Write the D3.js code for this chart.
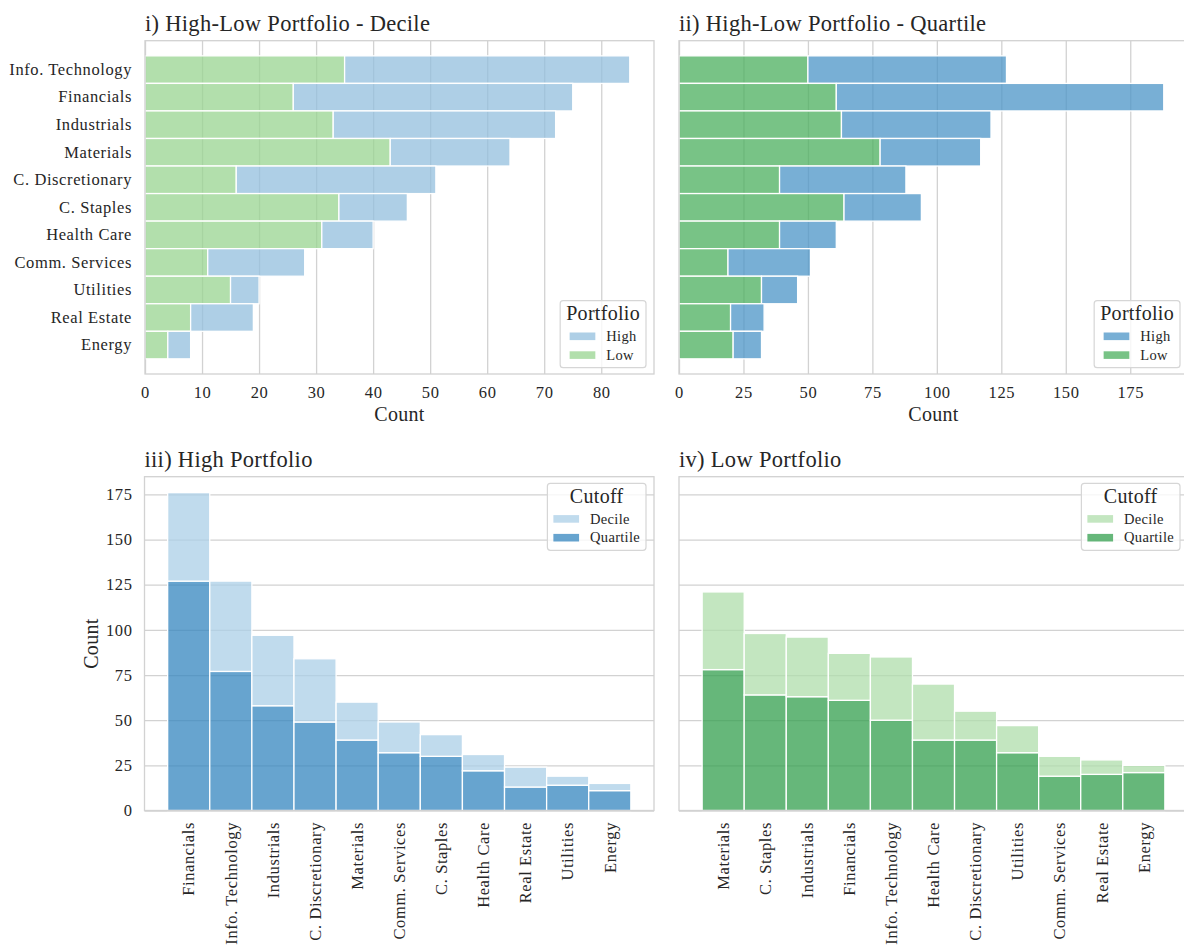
<!DOCTYPE html>
<html>
<head>
<meta charset="utf-8">
<script src="https://cdn.jsdelivr.net/npm/d3@7"></script>
<style>
  html, body { margin: 0; padding: 0; background: #fff; overflow: hidden; }
  svg { display: block; font-family: "Liberation Serif", "Times New Roman", serif; }
  svg text { font-family: "Liberation Serif", "Times New Roman", serif; }
</style>
</head>
<body>
<svg id="chart" width="1184" height="947"></svg>
<script>
// ---- data -------------------------------------------------------------
// Sector order used by the two horizontal (top) panels
const sectors = ["Info. Technology", "Financials", "Industrials", "Materials",
  "C. Discretionary", "C. Staples", "Health Care", "Comm. Services",
  "Utilities", "Real Estate", "Energy"];

// Firm counts per sector, aligned with `sectors`
const decileHigh   = [50, 49, 39, 21, 35, 12,  9, 17,  5, 11,  4];
const decileLow    = [35, 26, 33, 43, 16, 34, 31, 11, 15,  8,  4];
const quartileHigh = [77, 127, 58, 39, 49, 30, 22, 32, 14, 13, 11];
const quartileLow  = [50, 61, 63, 78, 39, 64, 39, 19, 32, 20, 21];

// Sector order for the bottom panels (sorted by stacked total)
const highOrder = ["Financials", "Info. Technology", "Industrials", "C. Discretionary",
  "Materials", "Comm. Services", "C. Staples", "Health Care", "Real Estate",
  "Utilities", "Energy"];
const lowOrder = ["Materials", "C. Staples", "Industrials", "Financials",
  "Info. Technology", "Health Care", "C. Discretionary", "Utilities",
  "Comm. Services", "Real Estate", "Energy"];

// Tick values
const decileTicks   = [0, 10, 20, 30, 40, 50, 60, 70, 80];
const quartileTicks = [0, 25, 50, 75, 100, 125, 150, 175];
const countTicks    = [0, 25, 50, 75, 100, 125, 150, 175];

// ---- style ------------------------------------------------------------
const ink = "#262626";
const gridColor = "#d2d2d2";
const barAlpha = 0.75;
const colors = {
  decHigh: "#93bfde", decLow: "#98d490",
  quaHigh: "#4b94c7", quaLow: "#4baf5e",
  stackHighDec: "#abcfe7", stackHighQua: "#3486bf",
  stackLowDec: "#afdeab", stackLowQua: "#339f4e"
};
const fs = { title: 22.5, label: 20, tick: 16.5, legTitle: 20, legLabel: 14.5 };
const serif = '"Liberation Serif", "Times New Roman", serif';

const svg = d3.select("#chart");

const boxes = {
  a: { x0: 145,   x1: 654,  y0: 40.7,  y1: 374 },
  b: { x0: 679,   x1: 1188, y0: 40.7,  y1: 374 },
  c: { x0: 144.5, x1: 654,  y0: 476.7, y1: 810.5 },
  d: { x0: 679,   x1: 1188, y0: 476.7, y1: 810.5 }
};

const idx = s => sectors.indexOf(s);

function styleAxis(sel, size) {
  sel.attr("font-family", serif).attr("font-size", size);
  sel.selectAll("text")
    .attr("fill", ink)
    .style("font-family", serif)
    .style("font-size", size + "px")
    .style("letter-spacing", "0.6px");
}

function drawTitle(g, box, text) {
  g.append("text")
    .attr("x", box.x0).attr("y", box.y0 - 9.7)
    .attr("fill", ink)
    .style("font-size", fs.title + "px")
    .style("letter-spacing", "0.3px")
    .text(text);
}

function drawFrame(g, box) {
  g.append("rect")
    .attr("x", box.x0).attr("y", box.y0)
    .attr("width", box.x1 - box.x0).attr("height", box.y1 - box.y0)
    .attr("fill", "none").attr("stroke", gridColor).attr("stroke-width", 1.3);
}

function drawLegend(g, right, top, title, items) {
  const lg = g.append("g");
  const bg = lg.append("rect");
  const t = lg.append("text")
    .attr("fill", ink).attr("text-anchor", "middle")
    .style("font-size", fs.legTitle + "px").style("letter-spacing", "0.3px")
    .text(title);
  const titleW = t.node().getComputedTextLength();
  const labels = items.map(it => lg.append("text")
    .attr("fill", ink)
    .style("font-size", fs.legLabel + "px").style("letter-spacing", "0.3px")
    .text(it.label));
  const labelW = d3.max(labels, l => l.node().getComputedTextLength());
  const patchW = 25.7, gap = 11;
  const contentW = patchW + gap + labelW;
  const boxW = Math.max(titleW, contentW) + 12;
  const boxH = 67;
  const left = right - boxW;
  const cLeft = left + (boxW - contentW) / 2;
  bg.attr("x", left).attr("y", top).attr("width", boxW).attr("height", boxH)
    .attr("rx", 3).attr("fill", "#fff").attr("fill-opacity", 0.8)
    .attr("stroke", "#d6d6d6").attr("stroke-width", 1.2);
  t.attr("x", left + boxW / 2).attr("y", top + 19.4);
  items.forEach((it, i) => {
    const rowTop = top + 31.8 + i * 18.8;
    lg.append("rect")
      .attr("x", cLeft).attr("y", rowTop)
      .attr("width", patchW).attr("height", 7.6)
      .attr("fill", it.color).attr("fill-opacity", barAlpha);
    labels[i].attr("x", cLeft + patchW + gap).attr("y", rowTop + 8.4);
  });
}

// ---- horizontal stacked panels (top row) ------------------------------
function horizontalPanel(box, title, low, high, ticks, cLow, cHigh, showLabels) {
  const g = svg.append("g");
  const totals = low.map((v, i) => v + high[i]);
  const x = d3.scaleLinear().domain([0, d3.max(totals) * 1.05]).range([box.x0, box.x1]);
  const y = d3.scaleBand().domain(sectors).range([box.y0, box.y1])
    .paddingInner(0).paddingOuter(0.55);

  // vertical grid + tick labels
  g.append("g")
    .attr("transform", `translate(0,${box.y1})`)
    .call(d3.axisBottom(x).tickValues(ticks).tickSize(-(box.y1 - box.y0)).tickPadding(12))
    .call(a => a.select(".domain").remove())
    .call(a => a.selectAll("line").attr("stroke", gridColor).attr("stroke-width", 1.3))
    .call(a => styleAxis(a, fs.tick));

  if (showLabels) {
    g.append("g")
      .attr("transform", `translate(${box.x0},0)`)
      .call(d3.axisLeft(y).tickSize(0).tickPadding(13))
      .call(a => a.select(".domain").remove())
      .call(a => styleAxis(a, fs.tick));
  }

  const rows = g.append("g");
  sectors.forEach((s, i) => {
    rows.append("rect")
      .attr("x", x(0)).attr("y", y(s))
      .attr("width", x(low[i]) - x(0)).attr("height", y.bandwidth())
      .attr("fill", cLow).attr("fill-opacity", barAlpha)
      .attr("stroke", "#fff").attr("stroke-width", 1.3);
    rows.append("rect")
      .attr("x", x(low[i])).attr("y", y(s))
      .attr("width", x(low[i] + high[i]) - x(low[i])).attr("height", y.bandwidth())
      .attr("fill", cHigh).attr("fill-opacity", barAlpha)
      .attr("stroke", "#fff").attr("stroke-width", 1.3);
  });

  drawFrame(g, box);
  drawTitle(g, box, title);
  g.append("text")
    .attr("x", (box.x0 + box.x1) / 2).attr("y", 421)
    .attr("text-anchor", "middle").attr("fill", ink)
    .style("font-size", fs.label + "px").style("letter-spacing", "0.3px")
    .text("Count");
  drawLegend(g, box.x1 - 8, box.y1 - 6.3 - 67, "Portfolio",
    [{ label: "High", color: cHigh }, { label: "Low", color: cLow }]);
}

// ---- vertical stacked panels (bottom row) -----------------------------
const stackMax = d3.max([
  ...sectors.map((s, i) => quartileHigh[i] + decileHigh[i]),
  ...sectors.map((s, i) => quartileLow[i] + decileLow[i])
]);

function verticalPanel(box, title, order, quart, dec, cQua, cDec, showLabels) {
  const g = svg.append("g");
  const x = d3.scaleBand().domain(order).range([box.x0, box.x1])
    .paddingInner(0).paddingOuter(0.55);
  const y = d3.scaleLinear().domain([0, stackMax * 1.05]).range([box.y1, box.y0]);

  // horizontal grid + tick labels
  g.append("g")
    .attr("transform", `translate(${box.x0},0)`)
    .call(d3.axisLeft(y).tickValues(countTicks).tickSize(-(box.x1 - box.x0)).tickPadding(12))
    .call(a => a.select(".domain").remove())
    .call(a => a.selectAll("line").attr("stroke", gridColor).attr("stroke-width", 1.3))
    .call(a => styleAxis(a, fs.tick))
    .call(a => { if (!showLabels) a.selectAll("text").remove(); });

  // rotated category labels
  g.append("g")
    .attr("transform", `translate(0,${box.y1})`)
    .call(d3.axisBottom(x).tickSize(0).tickPadding(0))
    .call(a => a.select(".domain").remove())
    .call(a => styleAxis(a, fs.tick))
    .call(a => a.selectAll("text")
      .attr("transform", "rotate(-90)")
      .attr("x", -11.5).attr("y", 0).attr("dy", "0.35em")
      .attr("text-anchor", "end"));

  const cols = g.append("g");
  order.forEach(s => {
    const q = quart[idx(s)], d = dec[idx(s)];
    cols.append("rect")
      .attr("x", x(s)).attr("y", y(q))
      .attr("width", x.bandwidth()).attr("height", y(0) - y(q))
      .attr("fill", cQua).attr("fill-opacity", barAlpha)
      .attr("stroke", "#fff").attr("stroke-width", 1.3);
    cols.append("rect")
      .attr("x", x(s)).attr("y", y(q + d))
      .attr("width", x.bandwidth()).attr("height", y(q) - y(q + d))
      .attr("fill", cDec).attr("fill-opacity", barAlpha)
      .attr("stroke", "#fff").attr("stroke-width", 1.3);
  });

  drawFrame(g, box);
  drawTitle(g, box, title);
  if (showLabels) {
    g.append("text")
      .attr("transform", `translate(97.5,${(box.y0 + box.y1) / 2}) rotate(-90)`)
      .attr("text-anchor", "middle").attr("fill", ink)
      .style("font-size", fs.label + "px").style("letter-spacing", "0.3px")
      .text("Count");
  }
  drawLegend(g, box.x1 - 8, box.y0 + 6.6, "Cutoff",
    [{ label: "Decile", color: cDec }, { label: "Quartile", color: cQua }]);
}

horizontalPanel(boxes.a, "i) High-Low Portfolio - Decile", decileLow, decileHigh,
  decileTicks, colors.decLow, colors.decHigh, true);
horizontalPanel(boxes.b, "ii) High-Low Portfolio - Quartile", quartileLow, quartileHigh,
  quartileTicks, colors.quaLow, colors.quaHigh, false);
verticalPanel(boxes.c, "iii) High Portfolio", highOrder, quartileHigh, decileHigh,
  colors.stackHighQua, colors.stackHighDec, true);
verticalPanel(boxes.d, "iv) Low Portfolio", lowOrder, quartileLow, decileLow,
  colors.stackLowQua, colors.stackLowDec, false);
</script>
</body>
</html>
